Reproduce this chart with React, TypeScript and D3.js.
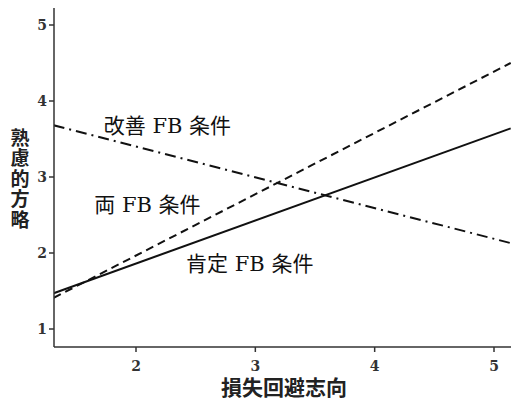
import React from "react";
import * as d3 from "d3";

const xTicks = [2, 3, 4, 5];
const yTicks = [1, 2, 3, 4, 5];
const xEnds = [1.31, 5.14];
const positiveFB = [1.47, 3.64];
const bothFB = [1.41, 4.5];
const improveFB = [3.68, 2.13];

const series = [
  { name: "肯定 FB 条件", values: positiveFB, dash: "none" },
  { name: "両 FB 条件", values: bothFB, dash: "8,5" },
  { name: "改善 FB 条件", values: improveFB, dash: "11,5,2,5" },
];

const labels = [
  { text: "改善 FB 条件", x: 1.73, y: 3.67 },
  { text: "両 FB 条件", x: 1.65, y: 2.64 },
  { text: "肯定 FB 条件", x: 2.42, y: 1.86 },
];

const W = 511;
const H = 401;
const left = 54;
const right = 511;
const top = 8;
const bottom = 347;

export default function App() {
  const x = d3.scaleLinear().domain([2, 5]).range([136, 494]);
  const y = d3.scaleLinear().domain([1, 5]).range([329, 25]);
  const line = d3
    .line<[number, number]>()
    .x((d) => x(d[0]))
    .y((d) => y(d[1]));
  const serif = "'DejaVu Serif', 'Noto Sans CJK JP', serif";
  return (
    <svg
      width={W}
      height={H}
      style={{ position: "absolute", left: 0, top: 0, background: "#fff" }}
    >
      <defs>
        <clipPath id="plot">
          <rect x={left} y={top} width={right - left} height={bottom - top} />
        </clipPath>
      </defs>
      <g clipPath="url(#plot)">
        {series.map((s) => (
          <path
            key={s.name}
            d={line(xEnds.map((xv, i) => [xv, s.values[i]]) as [number, number][]) || ""}
            fill="none"
            stroke="#111"
            strokeWidth={2}
            strokeDasharray={s.dash}
          />
        ))}
      </g>
      <line x1={left} x2={left} y1={top} y2={bottom} stroke="#333" strokeWidth={1.5} />
      <line x1={left} x2={right} y1={bottom} y2={bottom} stroke="#333" strokeWidth={1.5} />
      {yTicks.map((t) => (
        <g key={"y" + t}>
          <line x1={left - 5} x2={left} y1={y(t)} y2={y(t)} stroke="#333" strokeWidth={1.5} />
          <text
            x={left - 7}
            y={y(t)}
            dy="0.35em"
            textAnchor="end"
            fontFamily={serif}
            fontWeight="bold"
            fontSize={14}
            fill="#333"
          >
            {t}
          </text>
        </g>
      ))}
      {xTicks.map((t) => (
        <g key={"x" + t}>
          <line x1={x(t)} x2={x(t)} y1={bottom} y2={bottom + 5} stroke="#333" strokeWidth={1.5} />
          <text
            x={x(t)}
            y={366}
            dy="0.35em"
            textAnchor="middle"
            fontFamily={serif}
            fontWeight="bold"
            fontSize={14}
            fill="#333"
          >
            {t}
          </text>
        </g>
      ))}
      <text
        x={284}
        y={388}
        dy="0.35em"
        textAnchor="middle"
        fontFamily={serif}
        fontWeight="bold"
        fontSize={21}
        fill="#222"
      >
        損失回避志向
      </text>
      {"熟慮的方略".split("").map((c, i) => (
        <text
          key={c + i}
          x={20}
          y={138 + i * 20.5}
          dy="0.35em"
          textAnchor="middle"
          fontFamily={serif}
          fontWeight="bold"
          fontSize={19}
          fill="#222"
        >
          {c}
        </text>
      ))}
      {labels.map((l) => (
        <text
          key={l.text}
          x={x(l.x)}
          y={y(l.y)}
          dy="0.35em"
          fontFamily={serif}
          fontSize={21}
          fill="#111"
        >
          {l.text}
        </text>
      ))}
    </svg>
  );
}
